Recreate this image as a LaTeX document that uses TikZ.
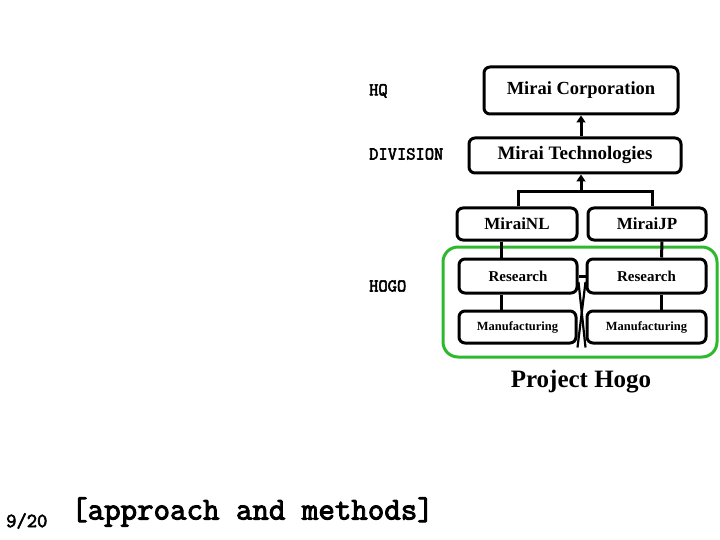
\documentclass[tikz,border=0pt]{standalone}
\usepackage{fontspec}
\setmainfont{Liberation Serif}
\newfontfamily\courb[FakeBold=3]{Latin Modern Mono}
\usetikzlibrary{arrows.meta}
\definecolor{hogogreen}{RGB}{45,185,45}
\begin{document}
\begin{tikzpicture}[x=1pt,y=-1pt,
  orgbox/.style={draw=black,line width=3pt,rounded corners=6pt,inner sep=0pt,font=\bfseries},
  conn/.style={draw=black,line width=3pt},
  arr/.style={conn,-{Triangle[length=7pt,width=9pt]}},
  lvl/.style={anchor=west,font=\courb\fontsize{18}{20}\selectfont,inner sep=0pt}]
\useasboundingbox (0,0) rectangle (720,540);
% green frame
\draw[hogogreen,line width=3pt,rounded corners=15pt] (443,247) rectangle (717,357);
% boxes
\node[orgbox,minimum width=194pt,minimum height=47pt,font=\bfseries\fontsize{18.5}{20}\selectfont] (corp) at (581,90.5) {Mirai Corporation};
\node[orgbox,minimum width=212pt,minimum height=35pt,font=\bfseries\fontsize{19}{21}\selectfont] (tech) at (575,155.5) {Mirai Technologies};
\node[orgbox,minimum width=120pt,minimum height=32pt,font=\bfseries\fontsize{17}{19}\selectfont] (nl) at (517,224) {MiraiNL};
\node[orgbox,minimum width=118pt,minimum height=32pt,font=\bfseries\fontsize{17}{19}\selectfont] (jp) at (647,224) {MiraiJP};
\node[orgbox,minimum width=118pt,minimum height=34pt,font=\bfseries\fontsize{15}{17}\selectfont] (resl) at (518,276) {Research};
\node[orgbox,minimum width=119pt,minimum height=34pt,font=\bfseries\fontsize{15}{17}\selectfont] (resr) at (646.5,276) {Research};
\node[orgbox,minimum width=117pt,minimum height=32pt,font=\bfseries\fontsize{12.5}{14}\selectfont] (manl) at (517.5,327) {Manufacturing};
\node[orgbox,minimum width=119pt,minimum height=32pt,font=\bfseries\fontsize{12.5}{14}\selectfont] (manr) at (646.5,327) {Manufacturing};
% connectors
\coordinate (j) at (581,192);
\draw[arr] (tech.north -| corp.south) -- (corp.south);
\draw[conn] ([xshift=1pt]nl.north) |- (j);
\draw[conn] ([xshift=5pt]jp.north) |- (j);
\draw[arr] (j) -- (j |- tech.south);
\draw[conn] ([xshift=-16pt]nl.south) -- ([xshift=-17pt]resl.north);
\draw[conn] ([xshift=15pt]jp.south) -- ([xshift=15pt]resr.north);
\draw[conn] ([xshift=-17pt]resl.south) -- ([xshift=-16.5pt]manl.north);
\draw[conn] ([xshift=15pt]resr.south) -- ([xshift=15pt]manr.north);
\draw[conn] (resl.east) -- (resr.west);
\draw[line width=2.2pt] ([yshift=-6pt]resl.east) -- ([yshift=-3pt]manr.south west);
\draw[line width=2.2pt] ([yshift=-6pt]resr.west) -- ([yshift=-3pt]manl.south east);
% texts
\node[font=\bfseries\fontsize{25}{27}\selectfont,inner sep=0pt] (proj) at (581,382) {Project Hogo};
\node[lvl] (hq) at (369,91) {HQ};
\node[lvl] (div) at (369,154) {DIVISION};
\node[lvl] (hogo) at (369,286) {HOGO};
\node[anchor=west,inner sep=0pt,font=\courb\fontsize{20}{22}\selectfont] (page) at (6,521) {9/20};
\node[anchor=west,inner sep=0pt,font=\courb\fontsize{32}{34}\selectfont] (title) at (71,512) {[approach and methods]};
\end{tikzpicture}
\end{document}
